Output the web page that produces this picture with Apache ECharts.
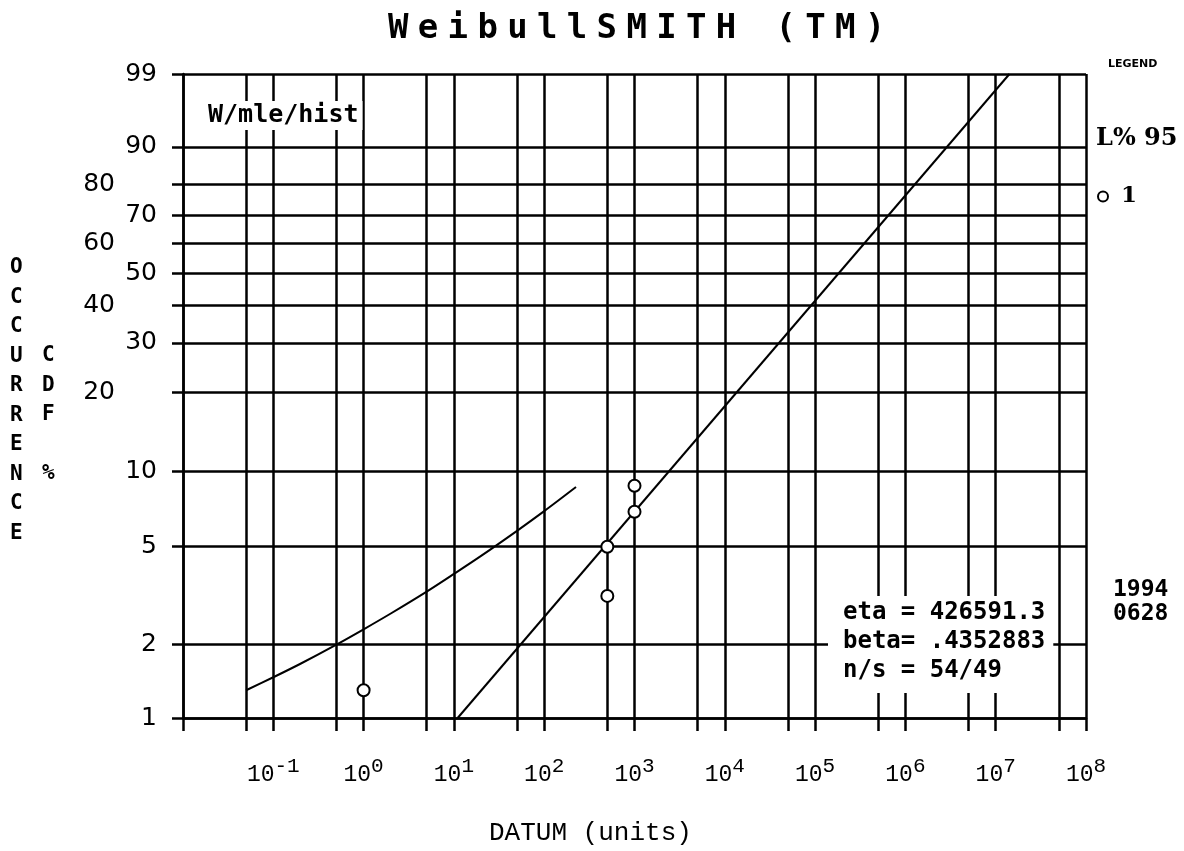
<!DOCTYPE html>
<html><head><meta charset="utf-8">
<script src="https://cdn.jsdelivr.net/npm/echarts@6/dist/echarts.min.js"></script>
<style>html,body{margin:0;padding:0;background:#fff}#c{width:1184px;height:851px}</style>
</head><body><div id="c"></div>
<script>
// ---- data ----
const titleText = 'WeibullSMITH (TM)';
const xGridValues = [0.01,0.05,0.1,0.5,1,5,10,50,100,500,1000,5000,1e4,5e4,1e5,5e5,1e6,5e6,1e7,5e7,1e8];
const xLabelValues = [0.1,1,10,100,1000,1e4,1e5,1e6,1e7,1e8];
const yTickPercents = [1,2,5,10,20,30,40,50,60,70,80,90,99];
const yLeftColumn = [80,60,40,20];
const fitX = [11, 1.42e7];
const fitP = [1, 99];
const curveX = [0.05,0.1,0.2,0.5,1,2,5,10,20,50,100,225];
const curveP = [1.30,1.47,1.67,2.00,2.31,2.68,3.29,3.88,4.59,5.79,6.94,8.65];
const pointsX = [1,500,500,1000,1000];
const pointsP = [1.3,3.16,5.0,6.9,8.75];
const statsLines = ['eta = 426591.3','beta= .4352883','n/s = 54/49'];

// Weibull probability scale (axis transform)
const wb = p => Math.log(-Math.log(1 - p/100));
const unwb = v => 100*(1 - Math.exp(-Math.exp(v)));

const chart = echarts.init(document.getElementById('c'), null, {renderer:'canvas'});
const black = '#000';
const LW = 2.5;
const titleRich = titleText.split('').map(ch => '{c|' + ch + '}').join('');
const option = {
  backgroundColor:'#fff',
  animation:false,
  legend:{show:true, left:1092, top:180, orient:'vertical', itemWidth:10, itemHeight:10,
    data:[{name:'1', icon:'circle', itemStyle:{color:'#fff', borderColor:black, borderWidth:2}}],
    textStyle:{fontFamily:'DejaVu Serif', fontWeight:'bold', fontSize:23, color:black, padding:[0,0,0,8]}},
  grid:{left:183, right:98, top:74, bottom:133, containLabel:false},
  xAxis:{type:'log', logBase:10, min:0.01, max:1e8,
    axisLine:{show:true, onZero:false, lineStyle:{color:black, width:LW}},
    axisTick:{show:true, length:13, inside:false, customValues:xGridValues, lineStyle:{color:black, width:LW}},
    splitLine:{show:true, lineStyle:{color:black, width:LW}},
    axisLabel:{customValues:xLabelValues, margin:38,
      formatter:v=>{const e=Math.round(Math.log10(v)); return '{b|10}{s|'+e+'}';},
      rich:{b:{fontFamily:'Liberation Mono', fontSize:23, color:black, verticalAlign:'bottom', lineHeight:30},
            s:{fontFamily:'Liberation Mono', fontSize:21, color:black, verticalAlign:'bottom', lineHeight:30, padding:[0,0,9,0]}}}
  },
  yAxis:{type:'value', min:wb(1), max:wb(99),
    axisLine:{show:true, onZero:false, lineStyle:{color:black, width:LW}},
    axisTick:{show:true, length:11, inside:false, customValues:yTickPercents.map(wb), lineStyle:{color:black, width:LW}},
    splitLine:{show:true, lineStyle:{color:black, width:LW}},
    axisLabel:{customValues:yTickPercents.map(wb), margin:26,
      formatter:v=>{const p=Math.round(unwb(v)); return yLeftColumn.indexOf(p)>=0 ? '{l|'+p+'}' : '{r|'+p+'}';},
      rich:{r:{fontFamily:'DejaVu Sans', fontSize:25, color:black},
            l:{fontFamily:'DejaVu Sans', fontSize:25, color:black, padding:[0,42,0,0]}}}
  },
  series:[
    {type:'line', name:'fit', data:fitX.map((x,i)=>[x, wb(fitP[i])]), symbol:'none',
      lineStyle:{color:black, width:2}, z:3},
    {type:'line', name:'bound', data:curveX.map((x,i)=>[x, wb(curveP[i])]), symbol:'none', smooth:0.3,
      lineStyle:{color:black, width:2}, z:3},
    {type:'scatter', name:'1', data:pointsX.map((x,i)=>[x, wb(pointsP[i])]), symbol:'circle', symbolSize:12,
      itemStyle:{color:'#fff', borderColor:black, borderWidth:2, opacity:1}, z:5}
  ],
  graphic:[
    {type:'text', left:388, top:12, style:{text:titleRich,
      rich:{c:{width:29.8, align:'center', fontFamily:'DejaVu Sans Mono', fontWeight:'bold', fontSize:34, fill:black}}}},
    {type:'text', left:1108, top:59, style:{text:'LEGEND', font:'bold 11px "DejaVu Sans"', fill:black}},
    {type:'text', left:1096, top:127, style:{text:'L% 95', font:'bold 24px "DejaVu Serif"', fill:black}},
    {type:'text', left:1113, top:578, style:{text:'1994\n0628', font:'bold 23px "DejaVu Sans Mono"', lineHeight:24, fill:black}},
    {type:'text', left:200, top:101, z:100, style:{text:'W/mle/hist', font:'bold 25px "DejaVu Sans Mono"', fill:black,
      backgroundColor:'#fff', padding:[2,4,2,8]}},
    {type:'text', left:828, top:596, z:100, style:{text:statsLines.join('\n'),
      font:'bold 24px "DejaVu Sans Mono"', lineHeight:29, fill:black, backgroundColor:'#fff', padding:[2,8,8,15]}},
    {type:'text', left:10, top:253, style:{text:'O\nC\nC\nU\nR\nR\nE\nN\nC\nE', font:'bold 21px "DejaVu Sans Mono"', lineHeight:29.5, fill:black}},
    {type:'text', left:42, top:341, style:{text:'C\nD\nF\n\n%', font:'bold 21px "DejaVu Sans Mono"', lineHeight:29.5, fill:black}},
    {type:'text', left:489, top:820, style:{text:'DATUM (units)', font:'26px "Liberation Mono"', fill:black}}
  ]
};
chart.setOption(option);
</script></body></html>
